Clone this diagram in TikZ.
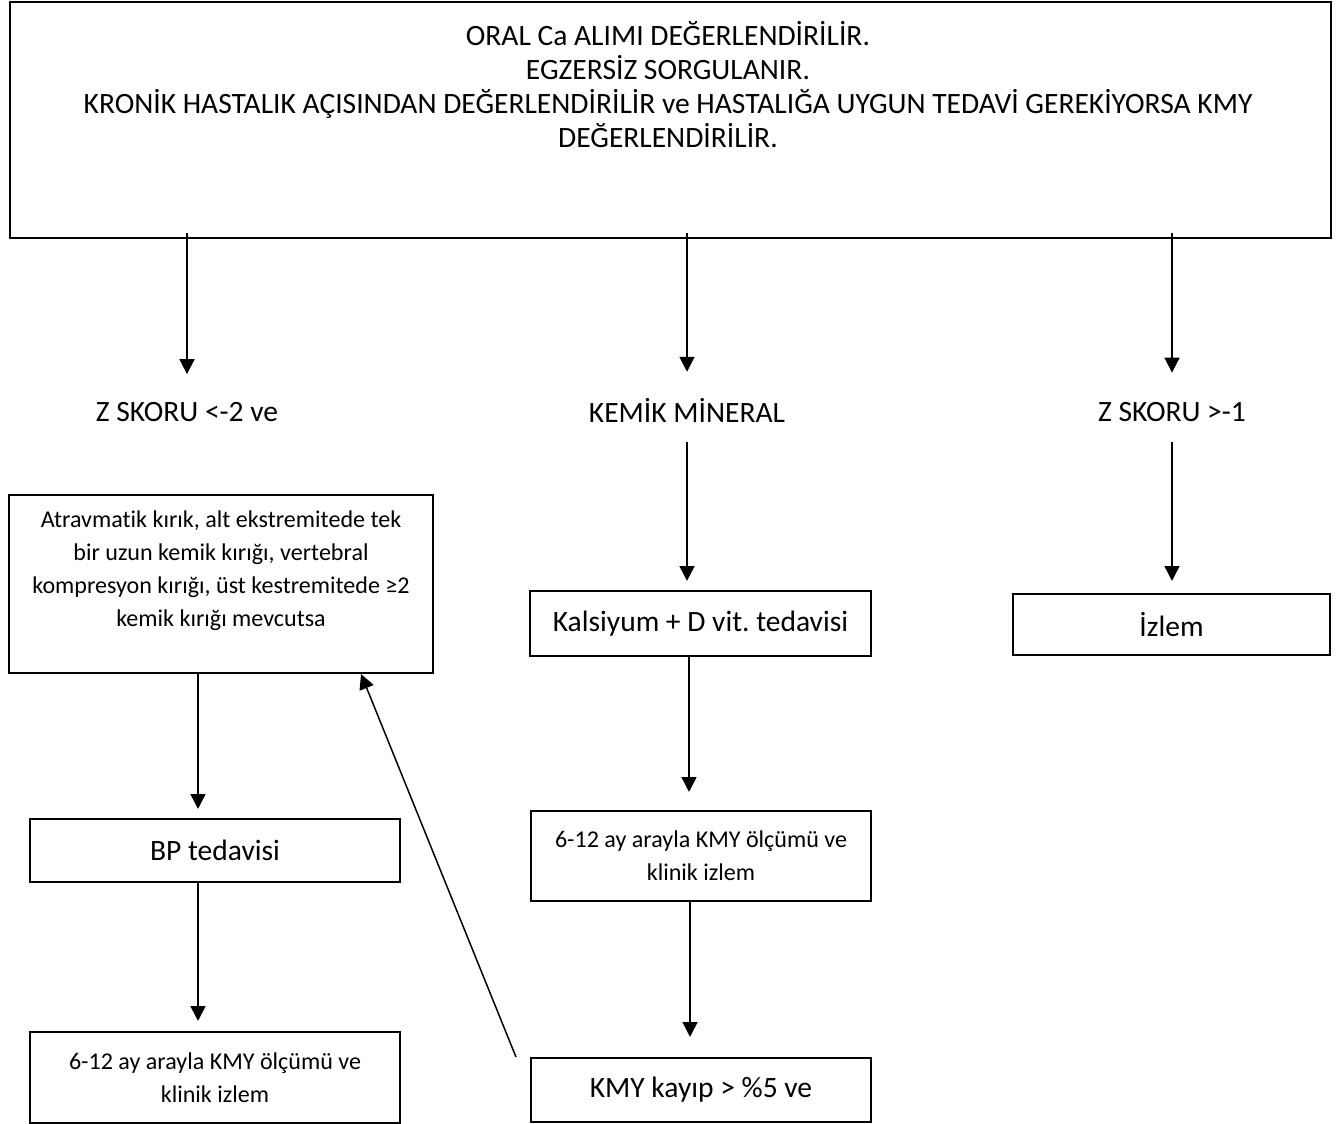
\documentclass[tikz,border=0pt]{standalone}
\usepackage{fontspec}
\setmainfont{Carlito}[Ligatures=NoCommon]
\usetikzlibrary{arrows.meta}
\frenchspacing

\begin{document}
\begin{tikzpicture}[x=0.02cm,y=-0.02cm,
  box/.style={draw,line width=1.2pt,inner sep=0pt,align=center},
  big/.style={font=\fontsize{16.8}{19.3}\selectfont},
  small/.style={font=\fontsize{13.7}{18.7}\selectfont},
  arr/.style={line width=1pt,-{Triangle[length=8.5pt,width=8.5pt]}}]
\path[use as bounding box] (0,0) rectangle (1338,1124);
% top box
\node[box,minimum width=26.42cm,minimum height=4.72cm] (assess) at (670.5,120) {};
\node[big,align=center,anchor=north] (assesstxt) at (668,15) {ORAL Ca ALIMI DEĞERLENDİRİLİR.\\EGZERSİZ SORGULANIR.\\KRONİK HASTALIK AÇISINDAN DEĞERLENDİRİLİR ve HASTALIĞA UYGUN TEDAVİ GEREKİYORSA KMY\\DEĞERLENDİRİLİR.};
% branch labels
\node[big] (zlow) at (187,412) {Z SKORU <-2 ve};
\node[big] (kmin) at (687,410) {KEMİK MİNERAL};
\node[big] (zhigh) at (1172,412) {Z SKORU >-1};
% left column
\node[box,minimum width=8.48cm,minimum height=3.56cm] (kirik) at (221,584) {};
\node[small,align=center,anchor=north] (kiriktxt) at (221,505) {Atravmatik kırık, alt ekstremitede tek\\bir uzun kemik kırığı, vertebral\\kompresyon kırığı, üst kestremitede ≥2\\kemik kırığı mevcutsa};
\node[box,big,minimum width=7.4cm,minimum height=1.26cm] (bp) at (215,850.5) {BP tedavisi};
\node[box,small,minimum width=7.4cm,minimum height=1.82cm] (klinikl) at (215,1077.5) {6-12 ay arayla KMY ölçümü ve\\klinik izlem};
% middle column
\node[box,big,minimum width=6.82cm,minimum height=1.3cm] (kal) at (700.5,623.5) {Kalsiyum + D vit. tedavisi};
\node[box,small,minimum width=6.8cm,minimum height=1.8cm] (klinikm) at (701,856) {6-12 ay arayla KMY ölçümü ve\\klinik izlem};
\node[box,big,minimum width=6.8cm,minimum height=1.28cm] (kayip) at (701,1090) {KMY kayıp > \%5 ve};
% right column
\node[box,big,minimum width=6.34cm,minimum height=1.22cm] (izlem) at (1171.5,624.5) {İzlem};
% connectors
\draw[arr,shorten >=0.44cm] ([yshift=0.12cm]assess.south -| zlow.north) -- (zlow.north);
\draw[arr,shorten >=0.40cm] ([yshift=0.12cm]assess.south -| kmin.north) -- (kmin.north);
\draw[arr,shorten >=0.47cm] ([yshift=0.12cm]assess.south -| zhigh.north) -- (zhigh.north);
\draw[arr,shorten <=0.28cm,shorten >=0.18cm] (kmin.south) -- (kmin.south |- kal.north);
\draw[arr,shorten <=0.28cm,shorten >=0.24cm] (zhigh.south) -- (zhigh.south |- izlem.north);
\draw[arr,shorten >=0.18cm] ([xshift=-0.34cm]bp.north |- kirik.south) -- ([xshift=-0.34cm]bp.north);
\draw[arr,shorten >=0.2cm] ([xshift=-0.34cm]bp.south) -- ([xshift=-0.34cm]klinikl.north);
\draw[arr,shorten >=0.36cm] ([xshift=-0.24cm]klinikm.north |- kal.south) -- ([xshift=-0.24cm]klinikm.north);
\draw[arr,shorten >=0.4cm] ([xshift=-0.22cm]klinikm.south) -- ([xshift=-0.22cm]kayip.north);
\coordinate (loop) at ([xshift=-0.28cm,yshift=0.66cm]kayip.west);
\draw[arr,line width=0.85pt] (loop) -- ([xshift=-1.46cm]kirik.south east);
\end{tikzpicture}
\end{document}
